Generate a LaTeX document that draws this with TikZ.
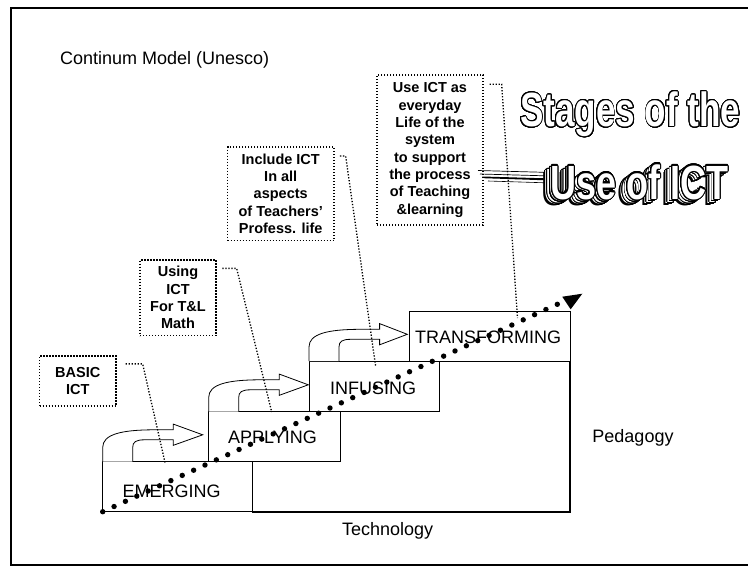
\documentclass[tikz,border=0pt]{standalone}
\usepackage{fontspec}
\setmainfont{Liberation Sans}
\usepackage{contour}
\contourlength{1.1pt}
\contournumber{32}
\usetikzlibrary{calc}

\begin{document}
\begin{tikzpicture}[x=1pt,y=-1pt,
  stagebox/.style={draw, line width=0.9pt, inner sep=0},
  stagelabel/.style={anchor=base west, inner sep=0, font=\fontsize{18}{20}\selectfont},
  plain/.style={inner sep=0, font=\fontsize{18}{20}\selectfont},
  callout/.style={draw, line width=1.3pt, dash pattern=on 1.3pt off 1.7pt,
    align=center, inner sep=0, font=\bfseries\fontsize{14.5}{17.3}\selectfont},
  leader/.style={line width=1.3pt, dash pattern=on 1.3pt off 1.7pt},
  blockarrow/.style={draw, line width=0.8pt, fill=white, line join=miter},
  arttext/.style={anchor=base west, inner sep=0, font=\bfseries\fontsize{48}{50}\selectfont},
]
\useasboundingbox (0,0) rectangle (748,566);
\clip (0,0) rectangle (748,566);

% outer frame
\draw[line width=2pt] (10.5,7.5) rectangle (760,564.5);

% heading
\node[plain, anchor=base west] (heading) at (60,64) {Continum Model (Unesco)};

% the four stages
\node[stagebox, minimum width=149.4, minimum height=50.2] (emerging) at (177.3,486.6) {};
\node[stagebox, minimum width=131.3, minimum height=50]   (applying) at (274.35,436.5) {};
\node[stagebox, minimum width=130.5, minimum height=50.5] (infusing) at (374.25,386.25) {};
\node[stagebox, minimum width=161,   minimum height=50]   (transforming) at (489.5,336) {};

% technology / pedagogy axes
\draw[line width=2pt] (emerging.south east) -- (emerging.south east -| transforming.east)
  -- (transforming.south east);

% curved block arrows climbing the steps
\foreach \x/\y/\tip in {102.7/461.5/100, 208.7/411.5/99.6, 309/361/98.3}{
  \begin{scope}[shift={(\x,\y)}]
    \draw[blockarrow] (0,0) -- (0,-14)
      .. controls (0,-27) and (18,-31.7) .. (52,-31.7) -- (70.6,-31.7)
      -- (70.6,-37.4) -- (\tip,-26.7) -- (70.6,-16.2) -- (70.6,-21.7) -- (42,-21.7)
      .. controls (33,-21.7) and (30,-19.5) .. (30,-14) -- (30,0);
  \end{scope}
}

% stage labels
\node[stagelabel] (lblE) at (122.3,497.7) {EMERGING};
\node[stagelabel] (lblA) at (228,443.3) {APPLYING};
\node[stagelabel] (lblI) at (330,394) {INFUSING};
\node[stagelabel] (lblT) at (415,343.3) {TRANSFORMING};

\node[plain, anchor=base] (pedagogy) at (633,442) {Pedagogy};
\node[plain, anchor=base] (technology) at (387.6,535) {Technology};

% callouts
\node[callout, minimum width=76.5, minimum height=50] (basic) at (77.75,381) {BASIC\\ICT};
\node[callout, minimum width=76, minimum height=75.5] (using) at (178,297.75)
  {Using\\ICT\\For T\&L\\Math};
\node[callout, minimum width=106.5, minimum height=93.5] (include) at (280.75,193.75)
  {Include ICT\\In all\\aspects\\of Teachers’\\Profess. life};
\node[callout, minimum width=106, minimum height=150] (useict) at (430,150)
  {Use ICT as\\everyday\\Life of the\\system\\to support\\the process\\of Teaching\\\&learning};

% leader lines from the callouts to the stages
\coordinate (endE) at (165,462.5);
\coordinate (endA) at (271.7,412);
\coordinate (endI) at (375.7,366.7);
\coordinate (endT) at (517.5,318);
\draw[leader] ($(basic.north east)+(9,8.5)$) -- ++(17,0) -- (endE);
\draw[leader] ($(using.north east)+(5.7,9)$) -- ++(14.3,0) -- (endA);
\draw[leader] ($(include.north east)+(5.3,9.7)$) -- ++(5.7,0) -- (endI);
\draw[leader] ($(useict.north east)+(6,9.8)$) -- ++(12,0) -- (endT);

% dotted progression line with its head
\coordinate (dstart) at (102.7,511.7);
\coordinate (dend) at (557.3,304.3);
\foreach \i in {0,...,40}
  \fill ($(dstart)!\i/40!(dend)$) circle (2.7);
\fill (562.3,296.7) -- (582.3,293.7) -- (570.7,309.3) -- cycle;

% title lettering
\node[arttext, text=white] (stagesof) at (520,126.7)
  {\scalebox{0.73}[1]{\contour{black}{Stages of the}}};

% streaks of the extruded shadow
\draw[line width=0.7pt] (478,170.5) -- (552,172.5);
\draw[line width=0.7pt] (480,174) -- (552,176);
\fill (482,176.5) -- (552,178.5) -- (552,180.5) -- (484,178.2) -- cycle;
\draw[line width=0.6pt] (488,181) -- (552,183);

% extruded copies, back to front
\node[arttext, text=black] (useshadow) at (541.2,205.4)
  {\scalebox{0.75}[1]{Use of ICT}};
\foreach \k in {3,2,1}
  \node[arttext, text=white] at ($(550,199)+(-2.2*\k,1.6*\k)$)
    {\scalebox{0.75}[1]{\contour{black}{Use of ICT}}};
\node[arttext, text=white] (useof) at (550,199)
  {\scalebox{0.75}[1]{\contour{black}{Use of ICT}}};
\end{tikzpicture}
\end{document}
